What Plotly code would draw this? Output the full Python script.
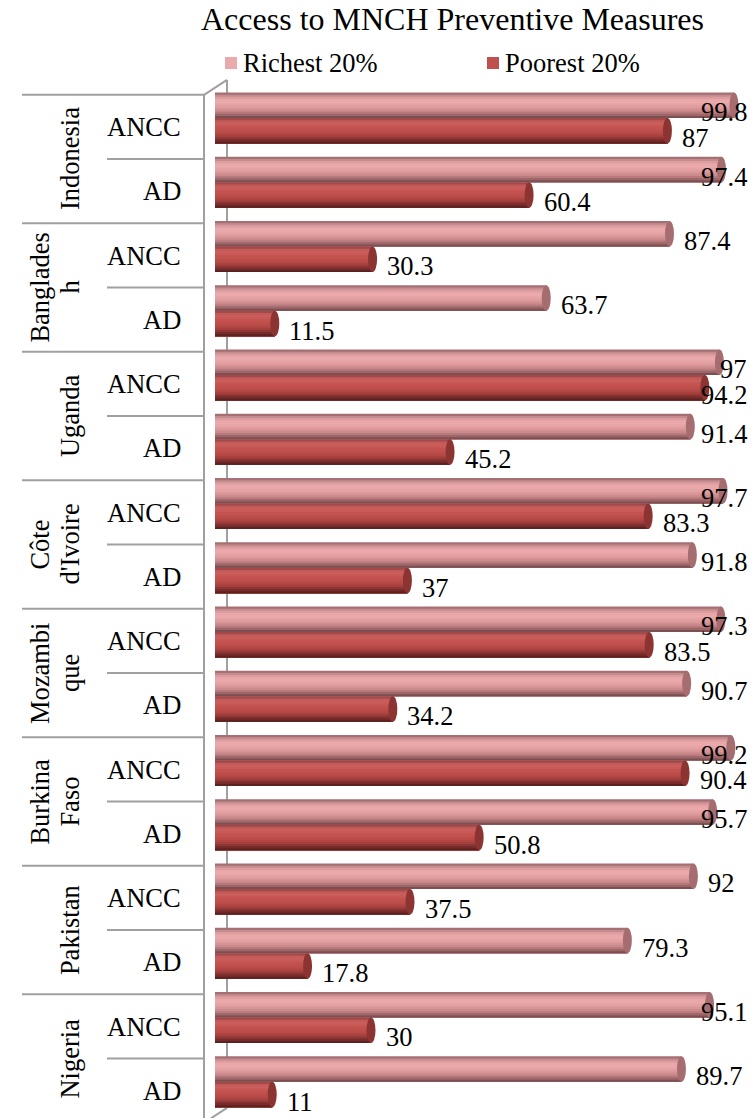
import plotly.graph_objects as go

# ---- data -------------------------------------------------------------
countries = [["Indonesia"], ["Banglades", "h"], ["Uganda"], ["Côte", "d'Ivoire"],
             ["Mozambi", "que"], ["Burkina", "Faso"], ["Pakistan"], ["Nigeria"]]
measures = ["ANCC", "AD"]
richest = [99.8, 97.4, 87.4, 63.7, 97, 91.4, 97.7, 91.8,
           97.3, 90.7, 99.2, 95.7, 92, 79.3, 95.1, 89.7]
poorest = [87, 60.4, 30.3, 11.5, 94.2, 45.2, 83.3, 37,
           83.5, 34.2, 90.4, 50.8, 37.5, 17.8, 30, 11]
series_names = ["Richest 20%", "Poorest 20%"]
title_text = "Access to MNCH Preventive Measures"

# ---- geometry (pixels) ------------------------------------------------
W, H = 756, 1118
ROW_H = 64.25          # height of one category row
ROW0 = 127             # centre of the first category row
DEPTH_X, DEPTH_Y = 23, 15   # 3-D wall offset
BAR_LIFT = 9           # bars sit a little up/right of the flat category rows
X0, XS = 215, 5.2      # value 0 position and pixels per unit
BAR_PX = 25.5          # thickness of one cylinder
CAP_PX = 4.5           # half width of the cylinder end face
FONT = "Liberation Serif, Times New Roman, serif"
FS = 26.5
GRID = "#a0a0a0"

n = len(richest)
idx = list(range(n))
t = BAR_PX / ROW_H


def px(x):
    return x / W


def py(y):
    return 1 - y / H


# vertical shading of the cylinders, top to bottom
shade_rich = ["#a47073", "#c48c8e", "#dd9c9e", "#e9a7a9", "#eaa9ab", "#e6a4a6",
              "#e09ea0", "#d89597", "#cb8a8c", "#b87a7c", "#9d6668", "#7c5052"]
shade_poor = ["#a3494a", "#c25a58", "#ca5e5c", "#c85956", "#c4534f", "#c0504d",
              "#bb4c49", "#b34744", "#a4403d", "#8f3634", "#772c2b", "#5c2221"]
cap_cols = ["#a66d70", "#8b3432"]

fig = go.Figure()

shapes = []
annotations = []

series = [(richest, shade_rich, -t), (poorest, shade_poor, 0.0)]
for s, (vals, shades, top) in enumerate(series):
    N = len(shades)
    for k, col in enumerate(shades):
        fig.add_trace(go.Bar(
            x=vals, y=idx, orientation="h", yaxis="y2",
            offset=top + k * t / N, width=t - k * t / N,
            marker=dict(color=col, line=dict(width=0)),
            showlegend=False, hoverinfo="skip"))
    # cylinder end faces
    for i, v in enumerate(vals):
        shapes.append(dict(
            type="circle", xref="x", yref="y2",
            x0=v - CAP_PX / XS, x1=v + CAP_PX / XS,
            y0=i + top, y1=i + top + t,
            fillcolor=cap_cols[s], line=dict(width=0), layer="above"))
    # value labels
    for i, v in enumerate(vals):
        label = f"{v:g}"
        width_px = sum(0.25 if c == "." else 0.5 for c in label) * FS
        left_px = X0 + XS * v + CAP_PX + 8
        ylab = i + top + t / 2 + 7 / ROW_H
        if left_px + width_px > 749:
            annotations.append(dict(
                x=px(749), xref="paper", xanchor="right",
                y=ylab, yref="y2", yanchor="middle",
                text=label, showarrow=False,
                font=dict(family=FONT, size=FS, color="#000")))
        else:
            annotations.append(dict(
                x=(left_px - X0) / XS, xref="x", xanchor="left",
                y=ylab, yref="y2", yanchor="middle",
                text=label, showarrow=False,
                font=dict(family=FONT, size=FS, color="#000")))

# category axis: measure labels and separators
for i in range(n):
    annotations.append(dict(
        x=px(183), xref="paper", xanchor="right",
        y=i, yref="y", yanchor="middle",
        text=measures[i % 2], showarrow=False,
        font=dict(family=FONT, size=FS, color="#000")))

for b in range(n + 1):
    x_start = 22 if b % 2 == 0 else 107
    shapes.append(dict(
        type="line", xref="paper", yref="y",
        x0=px(x_start), x1=px(204), y0=b - 0.5, y1=b - 0.5,
        line=dict(color=GRID, width=2), layer="below"))

# country labels, rotated, one annotation per line
for c, lines in enumerate(countries):
    for j, line in enumerate(lines):
        xc = 70 - 30 * (len(lines) - 1 - j)
        annotations.append(dict(
            x=px(xc), xref="paper", xanchor="center",
            y=2 * c + 0.5, yref="y", yanchor="middle",
            text=line, textangle=-90, showarrow=False,
            font=dict(family=FONT, size=FS, color="#000")))

# 3-D wall: front axis, back edge and the connecting diagonals
top_front = ROW0 - ROW_H / 2
bot_front = top_front + n * ROW_H
wall = [
    (204, top_front, 204, H + 5),
    (204 + DEPTH_X, top_front - DEPTH_Y, 204 + DEPTH_X, bot_front - DEPTH_Y),
    (204, top_front, 204 + DEPTH_X, top_front - DEPTH_Y),
    (204, bot_front, 204 + DEPTH_X, bot_front - DEPTH_Y),
]
for x0, y0, x1, y1 in wall:
    shapes.append(dict(
        type="line", xref="paper", yref="paper",
        x0=px(x0), y0=py(y0), x1=px(x1), y1=py(y1),
        line=dict(color=GRID, width=2), layer="below"))

# title
annotations.append(dict(
    x=px(452), xref="paper", xanchor="center",
    y=py(19), yref="paper", yanchor="middle",
    text=title_text, showarrow=False,
    font=dict(family=FONT, size=32, color="#000")))

# legend
legend_items = [(series_names[0], shade_rich[4], 225), (series_names[1], shade_poor[5], 487)]
for name, col, lx in legend_items:
    shapes.append(dict(
        type="rect", xref="paper", yref="paper",
        x0=px(lx), x1=px(lx + 12), y0=py(57), y1=py(69),
        fillcolor=col, line=dict(width=0)))
    annotations.append(dict(
        x=px(lx + 16), xref="paper", xanchor="left",
        y=py(63), yref="paper", yanchor="middle",
        text=name, showarrow=False,
        font=dict(family=FONT, size=FS, color="#000")))

fig.update_layout(
    width=W, height=H,
    margin=dict(l=0, r=0, t=0, b=0),
    paper_bgcolor="white", plot_bgcolor="white",
    barmode="overlay",
    xaxis=dict(domain=[0, 1], range=[-X0 / XS, (W - X0) / XS], visible=False, fixedrange=True),
    yaxis=dict(domain=[0, 1], range=[(H - ROW0) / ROW_H, -ROW0 / ROW_H], visible=False),
    yaxis2=dict(domain=[0, 1], overlaying="y",
                range=[(H - (ROW0 - BAR_LIFT)) / ROW_H, -(ROW0 - BAR_LIFT) / ROW_H],
                visible=False),
    shapes=shapes,
    annotations=annotations,
    showlegend=False,
)

fig.write_html("out.html")
